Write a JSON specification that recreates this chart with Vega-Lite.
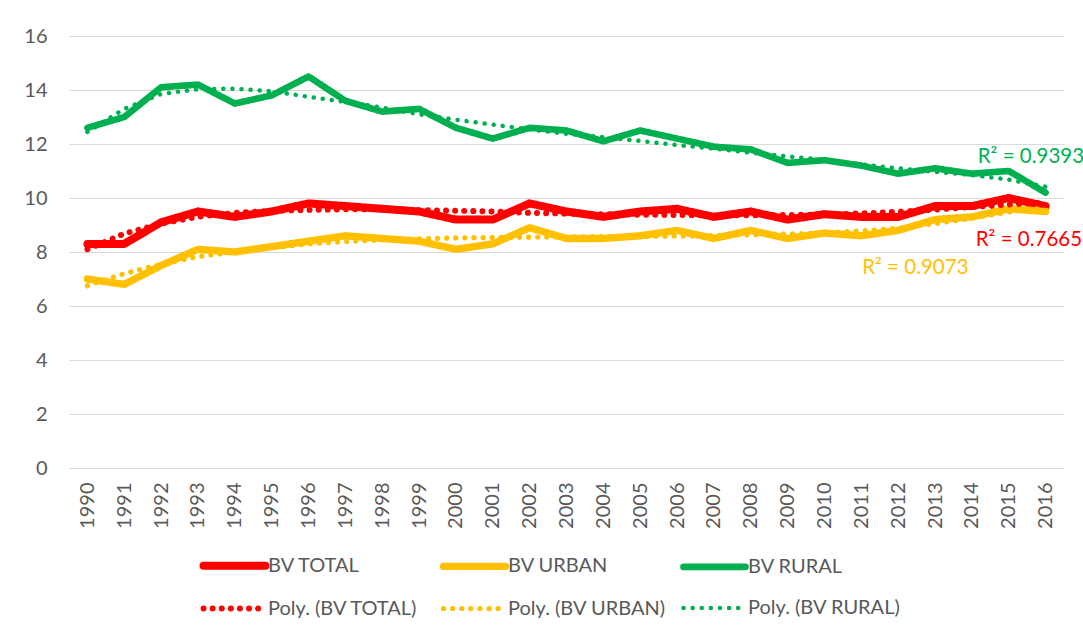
{
  "$schema": "https://vega.github.io/schema/vega-lite/v6.json",
  "width": 995,
  "height": 432,
  "autosize": {"type": "none"},
  "padding": {"left": 69, "top": 36, "right": 19, "bottom": 167},
  "background": "white",
  "config": {
    "font": "Lato",
    "view": {"stroke": null},
    "axis": {"labelColor": "#595959", "labelFontSize": 20, "title": null, "ticks": false, "gridColor": "#d9d9d9", "domainColor": "#d9d9d9"}
  },
  "datasets": {
    "observed": [
      {"year": "1990", "series": "BV TOTAL", "value": 8.3}, {"year": "1990", "series": "BV URBAN", "value": 7.0}, {"year": "1990", "series": "BV RURAL", "value": 12.6},
      {"year": "1991", "series": "BV TOTAL", "value": 8.3}, {"year": "1991", "series": "BV URBAN", "value": 6.8}, {"year": "1991", "series": "BV RURAL", "value": 13.0},
      {"year": "1992", "series": "BV TOTAL", "value": 9.1}, {"year": "1992", "series": "BV URBAN", "value": 7.5}, {"year": "1992", "series": "BV RURAL", "value": 14.1},
      {"year": "1993", "series": "BV TOTAL", "value": 9.5}, {"year": "1993", "series": "BV URBAN", "value": 8.1}, {"year": "1993", "series": "BV RURAL", "value": 14.2},
      {"year": "1994", "series": "BV TOTAL", "value": 9.3}, {"year": "1994", "series": "BV URBAN", "value": 8.0}, {"year": "1994", "series": "BV RURAL", "value": 13.5},
      {"year": "1995", "series": "BV TOTAL", "value": 9.5}, {"year": "1995", "series": "BV URBAN", "value": 8.2}, {"year": "1995", "series": "BV RURAL", "value": 13.8},
      {"year": "1996", "series": "BV TOTAL", "value": 9.8}, {"year": "1996", "series": "BV URBAN", "value": 8.4}, {"year": "1996", "series": "BV RURAL", "value": 14.5},
      {"year": "1997", "series": "BV TOTAL", "value": 9.7}, {"year": "1997", "series": "BV URBAN", "value": 8.6}, {"year": "1997", "series": "BV RURAL", "value": 13.6},
      {"year": "1998", "series": "BV TOTAL", "value": 9.6}, {"year": "1998", "series": "BV URBAN", "value": 8.5}, {"year": "1998", "series": "BV RURAL", "value": 13.2},
      {"year": "1999", "series": "BV TOTAL", "value": 9.5}, {"year": "1999", "series": "BV URBAN", "value": 8.4}, {"year": "1999", "series": "BV RURAL", "value": 13.3},
      {"year": "2000", "series": "BV TOTAL", "value": 9.2}, {"year": "2000", "series": "BV URBAN", "value": 8.1}, {"year": "2000", "series": "BV RURAL", "value": 12.6},
      {"year": "2001", "series": "BV TOTAL", "value": 9.2}, {"year": "2001", "series": "BV URBAN", "value": 8.3}, {"year": "2001", "series": "BV RURAL", "value": 12.2},
      {"year": "2002", "series": "BV TOTAL", "value": 9.8}, {"year": "2002", "series": "BV URBAN", "value": 8.9}, {"year": "2002", "series": "BV RURAL", "value": 12.6},
      {"year": "2003", "series": "BV TOTAL", "value": 9.5}, {"year": "2003", "series": "BV URBAN", "value": 8.5}, {"year": "2003", "series": "BV RURAL", "value": 12.5},
      {"year": "2004", "series": "BV TOTAL", "value": 9.3}, {"year": "2004", "series": "BV URBAN", "value": 8.5}, {"year": "2004", "series": "BV RURAL", "value": 12.1},
      {"year": "2005", "series": "BV TOTAL", "value": 9.5}, {"year": "2005", "series": "BV URBAN", "value": 8.6}, {"year": "2005", "series": "BV RURAL", "value": 12.5},
      {"year": "2006", "series": "BV TOTAL", "value": 9.6}, {"year": "2006", "series": "BV URBAN", "value": 8.8}, {"year": "2006", "series": "BV RURAL", "value": 12.2},
      {"year": "2007", "series": "BV TOTAL", "value": 9.3}, {"year": "2007", "series": "BV URBAN", "value": 8.5}, {"year": "2007", "series": "BV RURAL", "value": 11.9},
      {"year": "2008", "series": "BV TOTAL", "value": 9.5}, {"year": "2008", "series": "BV URBAN", "value": 8.8}, {"year": "2008", "series": "BV RURAL", "value": 11.8},
      {"year": "2009", "series": "BV TOTAL", "value": 9.2}, {"year": "2009", "series": "BV URBAN", "value": 8.5}, {"year": "2009", "series": "BV RURAL", "value": 11.3},
      {"year": "2010", "series": "BV TOTAL", "value": 9.4}, {"year": "2010", "series": "BV URBAN", "value": 8.7}, {"year": "2010", "series": "BV RURAL", "value": 11.4},
      {"year": "2011", "series": "BV TOTAL", "value": 9.3}, {"year": "2011", "series": "BV URBAN", "value": 8.6}, {"year": "2011", "series": "BV RURAL", "value": 11.2},
      {"year": "2012", "series": "BV TOTAL", "value": 9.3}, {"year": "2012", "series": "BV URBAN", "value": 8.8}, {"year": "2012", "series": "BV RURAL", "value": 10.9},
      {"year": "2013", "series": "BV TOTAL", "value": 9.7}, {"year": "2013", "series": "BV URBAN", "value": 9.2}, {"year": "2013", "series": "BV RURAL", "value": 11.1},
      {"year": "2014", "series": "BV TOTAL", "value": 9.7}, {"year": "2014", "series": "BV URBAN", "value": 9.3}, {"year": "2014", "series": "BV RURAL", "value": 10.9},
      {"year": "2015", "series": "BV TOTAL", "value": 10.0}, {"year": "2015", "series": "BV URBAN", "value": 9.6}, {"year": "2015", "series": "BV RURAL", "value": 11.0},
      {"year": "2016", "series": "BV TOTAL", "value": 9.7}, {"year": "2016", "series": "BV URBAN", "value": 9.5}, {"year": "2016", "series": "BV RURAL", "value": 10.2}
    ],
    "trend": [
      {"year": "1990", "series": "Poly. (BV TOTAL)", "value": 8.1}, {"year": "1990", "series": "Poly. (BV URBAN)", "value": 6.75}, {"year": "1990", "series": "Poly. (BV RURAL)", "value": 12.45},
      {"year": "1991", "series": "Poly. (BV TOTAL)", "value": 8.68}, {"year": "1991", "series": "Poly. (BV URBAN)", "value": 7.2}, {"year": "1991", "series": "Poly. (BV RURAL)", "value": 13.3},
      {"year": "1992", "series": "Poly. (BV TOTAL)", "value": 9.05}, {"year": "1992", "series": "Poly. (BV URBAN)", "value": 7.55}, {"year": "1992", "series": "Poly. (BV RURAL)", "value": 13.85},
      {"year": "1993", "series": "Poly. (BV TOTAL)", "value": 9.3}, {"year": "1993", "series": "Poly. (BV URBAN)", "value": 7.83}, {"year": "1993", "series": "Poly. (BV RURAL)", "value": 14.03},
      {"year": "1994", "series": "Poly. (BV TOTAL)", "value": 9.45}, {"year": "1994", "series": "Poly. (BV URBAN)", "value": 8.0}, {"year": "1994", "series": "Poly. (BV RURAL)", "value": 14.05},
      {"year": "1995", "series": "Poly. (BV TOTAL)", "value": 9.52}, {"year": "1995", "series": "Poly. (BV URBAN)", "value": 8.15}, {"year": "1995", "series": "Poly. (BV RURAL)", "value": 13.95},
      {"year": "1996", "series": "Poly. (BV TOTAL)", "value": 9.56}, {"year": "1996", "series": "Poly. (BV URBAN)", "value": 8.3}, {"year": "1996", "series": "Poly. (BV RURAL)", "value": 13.75},
      {"year": "1997", "series": "Poly. (BV TOTAL)", "value": 9.58}, {"year": "1997", "series": "Poly. (BV URBAN)", "value": 8.38}, {"year": "1997", "series": "Poly. (BV RURAL)", "value": 13.56},
      {"year": "1998", "series": "Poly. (BV TOTAL)", "value": 9.58}, {"year": "1998", "series": "Poly. (BV URBAN)", "value": 8.45}, {"year": "1998", "series": "Poly. (BV RURAL)", "value": 13.35},
      {"year": "1999", "series": "Poly. (BV TOTAL)", "value": 9.55}, {"year": "1999", "series": "Poly. (BV URBAN)", "value": 8.49}, {"year": "1999", "series": "Poly. (BV RURAL)", "value": 13.1},
      {"year": "2000", "series": "Poly. (BV TOTAL)", "value": 9.53}, {"year": "2000", "series": "Poly. (BV URBAN)", "value": 8.52}, {"year": "2000", "series": "Poly. (BV RURAL)", "value": 12.9},
      {"year": "2001", "series": "Poly. (BV TOTAL)", "value": 9.5}, {"year": "2001", "series": "Poly. (BV URBAN)", "value": 8.54}, {"year": "2001", "series": "Poly. (BV RURAL)", "value": 12.72},
      {"year": "2002", "series": "Poly. (BV TOTAL)", "value": 9.45}, {"year": "2002", "series": "Poly. (BV URBAN)", "value": 8.55}, {"year": "2002", "series": "Poly. (BV RURAL)", "value": 12.54},
      {"year": "2003", "series": "Poly. (BV TOTAL)", "value": 9.42}, {"year": "2003", "series": "Poly. (BV URBAN)", "value": 8.56}, {"year": "2003", "series": "Poly. (BV RURAL)", "value": 12.38},
      {"year": "2004", "series": "Poly. (BV TOTAL)", "value": 9.4}, {"year": "2004", "series": "Poly. (BV URBAN)", "value": 8.57}, {"year": "2004", "series": "Poly. (BV RURAL)", "value": 12.25},
      {"year": "2005", "series": "Poly. (BV TOTAL)", "value": 9.38}, {"year": "2005", "series": "Poly. (BV URBAN)", "value": 8.58}, {"year": "2005", "series": "Poly. (BV RURAL)", "value": 12.11},
      {"year": "2006", "series": "Poly. (BV TOTAL)", "value": 9.37}, {"year": "2006", "series": "Poly. (BV URBAN)", "value": 8.59}, {"year": "2006", "series": "Poly. (BV RURAL)", "value": 11.96},
      {"year": "2007", "series": "Poly. (BV TOTAL)", "value": 9.36}, {"year": "2007", "series": "Poly. (BV URBAN)", "value": 8.61}, {"year": "2007", "series": "Poly. (BV RURAL)", "value": 11.83},
      {"year": "2008", "series": "Poly. (BV TOTAL)", "value": 9.36}, {"year": "2008", "series": "Poly. (BV URBAN)", "value": 8.64}, {"year": "2008", "series": "Poly. (BV RURAL)", "value": 11.68},
      {"year": "2009", "series": "Poly. (BV TOTAL)", "value": 9.37}, {"year": "2009", "series": "Poly. (BV URBAN)", "value": 8.67}, {"year": "2009", "series": "Poly. (BV RURAL)", "value": 11.54},
      {"year": "2010", "series": "Poly. (BV TOTAL)", "value": 9.39}, {"year": "2010", "series": "Poly. (BV URBAN)", "value": 8.71}, {"year": "2010", "series": "Poly. (BV RURAL)", "value": 11.41},
      {"year": "2011", "series": "Poly. (BV TOTAL)", "value": 9.43}, {"year": "2011", "series": "Poly. (BV URBAN)", "value": 8.78}, {"year": "2011", "series": "Poly. (BV RURAL)", "value": 11.24},
      {"year": "2012", "series": "Poly. (BV TOTAL)", "value": 9.49}, {"year": "2012", "series": "Poly. (BV URBAN)", "value": 8.88}, {"year": "2012", "series": "Poly. (BV RURAL)", "value": 11.1},
      {"year": "2013", "series": "Poly. (BV TOTAL)", "value": 9.57}, {"year": "2013", "series": "Poly. (BV URBAN)", "value": 9.05}, {"year": "2013", "series": "Poly. (BV RURAL)", "value": 10.97},
      {"year": "2014", "series": "Poly. (BV TOTAL)", "value": 9.66}, {"year": "2014", "series": "Poly. (BV URBAN)", "value": 9.25}, {"year": "2014", "series": "Poly. (BV RURAL)", "value": 10.85},
      {"year": "2015", "series": "Poly. (BV TOTAL)", "value": 9.76}, {"year": "2015", "series": "Poly. (BV URBAN)", "value": 9.48}, {"year": "2015", "series": "Poly. (BV RURAL)", "value": 10.68},
      {"year": "2016", "series": "Poly. (BV TOTAL)", "value": 9.83}, {"year": "2016", "series": "Poly. (BV URBAN)", "value": 9.64}, {"year": "2016", "series": "Poly. (BV RURAL)", "value": 10.42}
    ],
    "labels": [
      {"year": "2015", "value": 11.52, "label": "R² = 0.9393", "series": "BV RURAL"},
      {"year": "2015", "value": 8.44, "label": "R² = 0.7665", "series": "BV TOTAL"},
      {"year": "2012", "value": 7.41, "label": "R² = 0.9073", "series": "BV URBAN"}
    ]
  },
  "encoding": {
    "x": {"field": "year", "type": "ordinal", "axis": {"labelAngle": -90, "labelPadding": 14, "grid": false, "domain": true}},
    "y": {"field": "value", "type": "quantitative", "scale": {"domain": [0, 16]}, "axis": {"values": [0, 2, 4, 6, 8, 10, 12, 14, 16], "domain": false, "grid": true, "labelPadding": 22}}
  },
  "layer": [
    {
      "data": {"name": "observed"},
      "mark": {"type": "line", "strokeJoin": "round", "strokeCap": "round"},
      "encoding": {
        "color": {"field": "series", "type": "nominal",
          "scale": {"domain": ["BV TOTAL", "BV URBAN", "BV RURAL", "Poly. (BV TOTAL)", "Poly. (BV URBAN)", "Poly. (BV RURAL)"], "range": ["#FF0000", "#FFC000", "#00B050", "#FF0000", "#FFC000", "#00B050"]},
          "legend": {"title": null, "orient": "none", "legendX": 146, "legendY": 510, "columns": 3, "direction": "horizontal", "gridAlign": "all", "symbolType": "M-2,0H2", "symbolSize": 961, "labelFontSize": 20, "labelColor": "#595959", "labelOffset": 14, "columnPadding": 2, "rowPadding": 8, "padding": 0,
            "encoding": {"symbols": {"strokeCap": {"value": "round"}}}}},
        "strokeDash": {"field": "series", "type": "nominal",
          "scale": {"domain": ["BV TOTAL", "BV URBAN", "BV RURAL", "Poly. (BV TOTAL)", "Poly. (BV URBAN)", "Poly. (BV RURAL)"], "range": [[1, 0], [1, 0], [1, 0], [0.1, 9], [0.1, 9], [0.1, 9]]}},
        "strokeWidth": {"field": "series", "type": "nominal",
          "scale": {"domain": ["BV TOTAL", "BV URBAN", "BV RURAL", "Poly. (BV TOTAL)", "Poly. (BV URBAN)", "Poly. (BV RURAL)"], "range": [8, 4.5, 4.5, 4, 4, 4]}}
      }
    },
    {
      "data": {"name": "trend"},
      "mark": {"type": "line", "strokeCap": "round"},
      "encoding": {
        "color": {"field": "series", "type": "nominal"},
        "strokeDash": {"field": "series", "type": "nominal"},
        "strokeWidth": {"field": "series", "type": "nominal"}
      }
    },
    {
      "data": {"name": "labels"},
      "transform": [{"filter": "datum.series == 'BV RURAL'"}],
      "mark": {"type": "text", "align": "left", "baseline": "middle", "dx": -31, "fontSize": 20.5, "color": "#00B050"},
      "encoding": {"text": {"field": "label"}}
    },
    {
      "data": {"name": "labels"},
      "transform": [{"filter": "datum.series == 'BV TOTAL'"}],
      "mark": {"type": "text", "align": "left", "baseline": "middle", "dx": -33, "fontSize": 20.5, "color": "#FF0000"},
      "encoding": {"text": {"field": "label"}}
    },
    {
      "data": {"name": "labels"},
      "transform": [{"filter": "datum.series == 'BV URBAN'"}],
      "mark": {"type": "text", "align": "left", "baseline": "middle", "dx": -36, "fontSize": 20.5, "color": "#FFC000"},
      "encoding": {"text": {"field": "label"}}
    }
  ]
}
